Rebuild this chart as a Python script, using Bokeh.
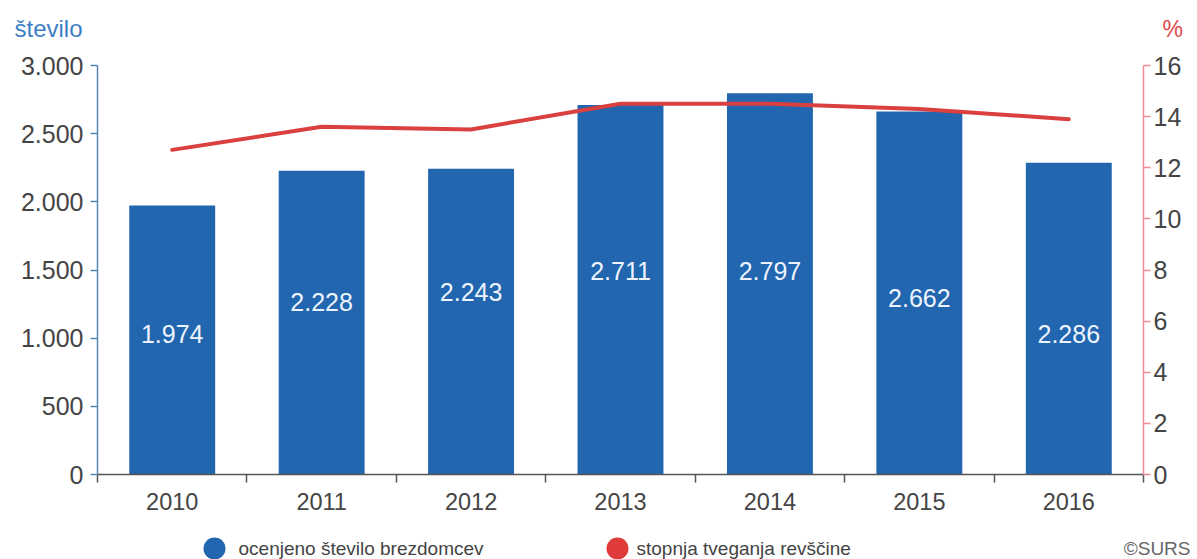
from bokeh.plotting import figure
from bokeh.layouts import column
from bokeh.models import Range1d, LinearAxis, FixedTicker, ColumnDataSource
from bokeh.core.properties import value
from bokeh.embed import file_html
from bokeh.resources import INLINE

# ---- data ----
years = ["2010", "2011", "2012", "2013", "2014", "2015", "2016"]
homeless = [1974, 2228, 2243, 2711, 2797, 2662, 2286]
poverty_rate = [12.7, 13.6, 13.5, 14.5, 14.5, 14.3, 13.9]
bar_label_text = ["1.974", "2.228", "2.243", "2.711", "2.797", "2.662", "2.286"]
bar_label_y = [1034, 1262, 1335, 1496, 1496, 1298, 1027]
left_ticks = [0, 500, 1000, 1500, 2000, 2500, 3000]
left_tick_labels = ["0", "500", "1.000", "1.500", "2.000", "2.500", "3.000"]
right_ticks = [0, 2, 4, 6, 8, 10, 12, 14, 16]
series_names = ["ocenjeno število brezdomcev", "stopnja tveganja revščine"]
left_title = "število"
right_title = "%"
source_note = "©SURS"

FONT = "Liberation Sans"
BLUE = "#2166ae"
RED = "#d9403f"
TXT = "#444444"
W = 1197
TOP_H = 45
BOT_H = 39
MAIN_H = 559 - TOP_H - BOT_H


def blank(h, y0, y1):
    f = figure(width=W, height=h, output_backend="svg", toolbar_location=None,
               x_range=Range1d(0, W), y_range=Range1d(y0, y1),
               x_axis_location=None, y_axis_location=None, min_border=0,
               frame_align=False)
    f.outline_line_color = None
    f.xgrid.visible = False
    f.ygrid.visible = False
    return f


# ---- header with axis titles ----
top = blank(TOP_H, TOP_H, 0)
top.text(x=[14], y=[28], text=[left_title], text_font=value(FONT), text_font_size="24px",
         text_color="#3d7fc6", text_align="left", text_baseline="middle")
top.text(x=[1162], y=[28], text=[right_title], text_font=value(FONT), text_font_size="23px",
         text_color="#e0474c", text_align="left", text_baseline="middle")

# ---- main chart ----
xs = list(range(len(years)))
src = ColumnDataSource(dict(x=xs, top=homeless, rate=poverty_rate,
                            ly=bar_label_y, lt=bar_label_text))

p = figure(width=W, height=MAIN_H, output_backend="svg", toolbar_location=None,
           x_range=Range1d(-0.5, len(years) - 0.5), y_range=Range1d(0, 3000),
           min_border_left=97, min_border_right=54, min_border_top=65 - TOP_H,
           min_border_bottom=MAIN_H - (474 - TOP_H),
           y_axis_location=None, x_axis_location=None, frame_align=False)
p.outline_line_color = None
p.xgrid.visible = False
p.ygrid.visible = False
p.extra_y_ranges = {"pct": Range1d(0, 16)}

p.vbar(x="x", top="top", width=0.575, source=src, fill_color=BLUE, line_color=None)
p.line(x="x", y="rate", source=src, y_range_name="pct", line_color=RED,
       line_width=4, line_join="round", line_cap="round")
p.text(x="x", y="ly", text="lt", source=src, text_font=value(FONT),
       text_font_size="25px", text_color="#eef4ff", text_align="center",
       text_baseline="middle")

ya = LinearAxis(ticker=FixedTicker(ticks=left_ticks, minor_ticks=[]))
ya.major_label_overrides = {t: l for t, l in zip(left_ticks, left_tick_labels)}
ya.axis_line_color = "#5a86b6"
ya.axis_line_width = 1.5
ya.major_tick_line_color = "#5a86b6"
ya.major_tick_line_width = 1.5
ya.major_tick_out = 7
ya.major_tick_in = 0
ya.major_label_standoff = 7
ya.major_label_text_font = FONT
ya.major_label_text_font_size = "25px"
ya.major_label_text_color = TXT
p.add_layout(ya, "left")

ra = LinearAxis(y_range_name="pct", ticker=FixedTicker(ticks=right_ticks, minor_ticks=[]))
ra.axis_line_color = "#ef8b95"
ra.axis_line_width = 1.5
ra.major_tick_line_color = "#ef8b95"
ra.major_tick_line_width = 1.5
ra.major_tick_out = 7
ra.major_tick_in = 0
ra.major_label_standoff = 3
ra.major_label_text_font = FONT
ra.major_label_text_font_size = "25px"
ra.major_label_text_color = TXT
p.add_layout(ra, "right")

bounds = [i - 0.5 for i in range(len(years) + 1)]
xa = LinearAxis(ticker=FixedTicker(ticks=xs, minor_ticks=bounds))
xa.major_label_overrides = {i: y for i, y in zip(xs, years)}
xa.axis_line_color = "#555555"
xa.axis_line_width = 1.5
xa.major_tick_line_color = None
xa.major_tick_out = 0
xa.major_tick_in = 0
xa.minor_tick_line_color = "#555555"
xa.minor_tick_line_width = 1.5
xa.minor_tick_out = 8
xa.minor_tick_in = 0
xa.major_label_standoff = 10
xa.major_label_text_font = FONT
xa.major_label_text_font_size = "23.5px"
xa.major_label_text_color = TXT
p.add_layout(xa, "below")

# ---- legend row ----
bot = blank(BOT_H, 559, 559 - BOT_H)
bot.scatter(x=[214, 617], y=[548, 548], marker="circle", size=22,
            fill_color=[BLUE, "#e03b3b"], line_color=None)
bot.text(x=[238, 636], y=[548, 548], text=series_names, text_font=value(FONT),
         text_font_size="19px", text_color=TXT, text_align="left", text_baseline="middle")
bot.text(x=[1190], y=[548], text=[source_note], text_font=value(FONT),
         text_font_size="19px", text_color="#666666", text_align="right",
         text_baseline="middle")

layout = column(top, p, bot, spacing=0)
open("out.html", "w").write(file_html(layout, INLINE))
